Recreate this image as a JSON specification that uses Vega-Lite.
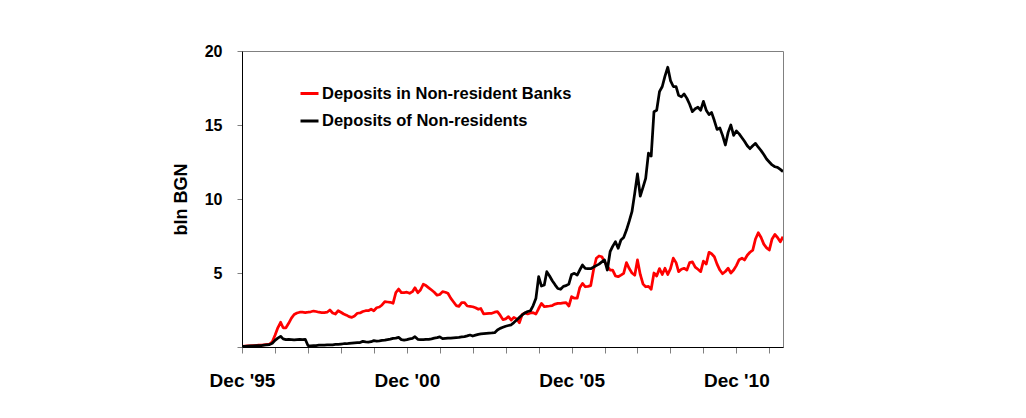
{
  "$schema": "https://vega.github.io/schema/vega-lite/v6.json",
  "width": 541,
  "height": 296,
  "autosize": "none",
  "padding": {"left": 242, "top": 51, "right": 243, "bottom": 71},
  "background": "#ffffff",
  "config": {
    "view": {"stroke": "#808080", "strokeWidth": 1},
    "font": "Liberation Sans",
    "axis": {
      "labelFont": "Liberation Sans",
      "labelFontWeight": "bold",
      "labelColor": "#000000",
      "titleFont": "Liberation Sans",
      "titleFontWeight": "bold",
      "titleColor": "#000000",
      "domainColor": "#000000",
      "domainWidth": 1,
      "tickColor": "#808080",
      "tickSize": 5,
      "grid": false
    }
  },
  "data": {
    "values": [
      {"date": "1995-12-01", "banks": 0.05, "nonres": 0.05},
      {"date": "1996-01-01", "banks": 0.06, "nonres": 0.05},
      {"date": "1996-02-01", "banks": 0.07, "nonres": 0.06},
      {"date": "1996-03-01", "banks": 0.08, "nonres": 0.07},
      {"date": "1996-04-01", "banks": 0.09, "nonres": 0.08},
      {"date": "1996-05-01", "banks": 0.1, "nonres": 0.09},
      {"date": "1996-06-01", "banks": 0.12, "nonres": 0.1},
      {"date": "1996-07-01", "banks": 0.13, "nonres": 0.1},
      {"date": "1996-08-01", "banks": 0.15, "nonres": 0.12},
      {"date": "1996-09-01", "banks": 0.17, "nonres": 0.14},
      {"date": "1996-10-01", "banks": 0.2, "nonres": 0.16},
      {"date": "1996-11-01", "banks": 0.35, "nonres": 0.25},
      {"date": "1996-12-01", "banks": 0.8, "nonres": 0.45},
      {"date": "1997-01-01", "banks": 1.3, "nonres": 0.6},
      {"date": "1997-02-01", "banks": 1.67, "nonres": 0.72},
      {"date": "1997-03-01", "banks": 1.3, "nonres": 0.55},
      {"date": "1997-04-01", "banks": 1.3, "nonres": 0.5},
      {"date": "1997-05-01", "banks": 1.6, "nonres": 0.52},
      {"date": "1997-06-01", "banks": 1.95, "nonres": 0.5},
      {"date": "1997-07-01", "banks": 2.2, "nonres": 0.48},
      {"date": "1997-08-01", "banks": 2.3, "nonres": 0.5},
      {"date": "1997-09-01", "banks": 2.35, "nonres": 0.52},
      {"date": "1997-10-01", "banks": 2.35, "nonres": 0.5},
      {"date": "1997-11-01", "banks": 2.33, "nonres": 0.52},
      {"date": "1997-12-01", "banks": 2.35, "nonres": 0.1},
      {"date": "1998-01-01", "banks": 2.38, "nonres": 0.08},
      {"date": "1998-02-01", "banks": 2.43, "nonres": 0.1},
      {"date": "1998-03-01", "banks": 2.4, "nonres": 0.1},
      {"date": "1998-04-01", "banks": 2.35, "nonres": 0.12},
      {"date": "1998-05-01", "banks": 2.33, "nonres": 0.12},
      {"date": "1998-06-01", "banks": 2.32, "nonres": 0.13},
      {"date": "1998-07-01", "banks": 2.35, "nonres": 0.14},
      {"date": "1998-08-01", "banks": 2.5, "nonres": 0.14},
      {"date": "1998-09-01", "banks": 2.3, "nonres": 0.15},
      {"date": "1998-10-01", "banks": 2.23, "nonres": 0.17},
      {"date": "1998-11-01", "banks": 2.45, "nonres": 0.18},
      {"date": "1998-12-01", "banks": 2.35, "nonres": 0.2},
      {"date": "1999-01-01", "banks": 2.23, "nonres": 0.22},
      {"date": "1999-02-01", "banks": 2.15, "nonres": 0.22},
      {"date": "1999-03-01", "banks": 2.05, "nonres": 0.24},
      {"date": "1999-04-01", "banks": 2.0, "nonres": 0.26},
      {"date": "1999-05-01", "banks": 2.1, "nonres": 0.28},
      {"date": "1999-06-01", "banks": 2.28, "nonres": 0.29},
      {"date": "1999-07-01", "banks": 2.3, "nonres": 0.3},
      {"date": "1999-08-01", "banks": 2.4, "nonres": 0.38},
      {"date": "1999-09-01", "banks": 2.45, "nonres": 0.34},
      {"date": "1999-10-01", "banks": 2.45, "nonres": 0.33},
      {"date": "1999-11-01", "banks": 2.55, "nonres": 0.36},
      {"date": "1999-12-01", "banks": 2.45, "nonres": 0.43},
      {"date": "2000-01-01", "banks": 2.65, "nonres": 0.4},
      {"date": "2000-02-01", "banks": 2.7, "nonres": 0.42},
      {"date": "2000-03-01", "banks": 2.84, "nonres": 0.45},
      {"date": "2000-04-01", "banks": 3.06, "nonres": 0.47},
      {"date": "2000-05-01", "banks": 3.04, "nonres": 0.5},
      {"date": "2000-06-01", "banks": 3.02, "nonres": 0.53},
      {"date": "2000-07-01", "banks": 2.95, "nonres": 0.58},
      {"date": "2000-08-01", "banks": 3.67, "nonres": 0.6},
      {"date": "2000-09-01", "banks": 3.92, "nonres": 0.65},
      {"date": "2000-10-01", "banks": 3.67, "nonres": 0.5},
      {"date": "2000-11-01", "banks": 3.68, "nonres": 0.47},
      {"date": "2000-12-01", "banks": 3.7, "nonres": 0.5},
      {"date": "2001-01-01", "banks": 3.63, "nonres": 0.55},
      {"date": "2001-02-01", "banks": 3.74, "nonres": 0.58},
      {"date": "2001-03-01", "banks": 4.0, "nonres": 0.7},
      {"date": "2001-04-01", "banks": 3.67, "nonres": 0.52},
      {"date": "2001-05-01", "banks": 3.85, "nonres": 0.5},
      {"date": "2001-06-01", "banks": 4.24, "nonres": 0.5},
      {"date": "2001-07-01", "banks": 4.15, "nonres": 0.52},
      {"date": "2001-08-01", "banks": 4.0, "nonres": 0.52},
      {"date": "2001-09-01", "banks": 3.85, "nonres": 0.55},
      {"date": "2001-10-01", "banks": 3.7, "nonres": 0.6},
      {"date": "2001-11-01", "banks": 3.5, "nonres": 0.63},
      {"date": "2001-12-01", "banks": 3.55, "nonres": 0.68},
      {"date": "2002-01-01", "banks": 3.74, "nonres": 0.56},
      {"date": "2002-02-01", "banks": 3.7, "nonres": 0.58},
      {"date": "2002-03-01", "banks": 3.63, "nonres": 0.6},
      {"date": "2002-04-01", "banks": 3.3, "nonres": 0.6},
      {"date": "2002-05-01", "banks": 3.06, "nonres": 0.62},
      {"date": "2002-06-01", "banks": 2.8, "nonres": 0.64},
      {"date": "2002-07-01", "banks": 2.75, "nonres": 0.65},
      {"date": "2002-08-01", "banks": 3.0, "nonres": 0.68},
      {"date": "2002-09-01", "banks": 3.0, "nonres": 0.7},
      {"date": "2002-10-01", "banks": 2.77, "nonres": 0.75},
      {"date": "2002-11-01", "banks": 2.75, "nonres": 0.81},
      {"date": "2002-12-01", "banks": 2.72, "nonres": 0.74},
      {"date": "2003-01-01", "banks": 2.65, "nonres": 0.8},
      {"date": "2003-02-01", "banks": 2.55, "nonres": 0.85},
      {"date": "2003-03-01", "banks": 2.6, "nonres": 0.88},
      {"date": "2003-04-01", "banks": 2.23, "nonres": 0.9},
      {"date": "2003-05-01", "banks": 2.25, "nonres": 0.92},
      {"date": "2003-06-01", "banks": 2.27, "nonres": 0.94},
      {"date": "2003-07-01", "banks": 2.28, "nonres": 0.95},
      {"date": "2003-08-01", "banks": 2.35, "nonres": 0.97},
      {"date": "2003-09-01", "banks": 2.39, "nonres": 1.15},
      {"date": "2003-10-01", "banks": 2.15, "nonres": 1.26},
      {"date": "2003-11-01", "banks": 1.85, "nonres": 1.33},
      {"date": "2003-12-01", "banks": 1.9, "nonres": 1.4},
      {"date": "2004-01-01", "banks": 2.05, "nonres": 1.45},
      {"date": "2004-02-01", "banks": 1.82, "nonres": 1.5},
      {"date": "2004-03-01", "banks": 2.0, "nonres": 1.65},
      {"date": "2004-04-01", "banks": 1.9, "nonres": 1.82},
      {"date": "2004-05-01", "banks": 1.64, "nonres": 2.0},
      {"date": "2004-06-01", "banks": 2.2, "nonres": 2.16},
      {"date": "2004-07-01", "banks": 2.3, "nonres": 2.3},
      {"date": "2004-08-01", "banks": 2.23, "nonres": 2.4},
      {"date": "2004-09-01", "banks": 2.3, "nonres": 2.45},
      {"date": "2004-10-01", "banks": 2.32, "nonres": 2.8},
      {"date": "2004-11-01", "banks": 2.23, "nonres": 3.3},
      {"date": "2004-12-01", "banks": 2.6, "nonres": 4.75},
      {"date": "2005-01-01", "banks": 2.95, "nonres": 4.12},
      {"date": "2005-02-01", "banks": 2.72, "nonres": 4.19},
      {"date": "2005-03-01", "banks": 2.75, "nonres": 5.09},
      {"date": "2005-04-01", "banks": 2.77, "nonres": 4.8},
      {"date": "2005-05-01", "banks": 2.8, "nonres": 4.48},
      {"date": "2005-06-01", "banks": 2.9, "nonres": 4.2},
      {"date": "2005-07-01", "banks": 2.95, "nonres": 3.95},
      {"date": "2005-08-01", "banks": 2.95, "nonres": 3.9},
      {"date": "2005-09-01", "banks": 2.98, "nonres": 4.1},
      {"date": "2005-10-01", "banks": 3.0, "nonres": 4.15},
      {"date": "2005-11-01", "banks": 2.77, "nonres": 4.26},
      {"date": "2005-12-01", "banks": 3.4, "nonres": 4.9},
      {"date": "2006-01-01", "banks": 3.3, "nonres": 4.98},
      {"date": "2006-02-01", "banks": 3.3, "nonres": 4.86},
      {"date": "2006-03-01", "banks": 4.0, "nonres": 5.2},
      {"date": "2006-04-01", "banks": 4.3, "nonres": 5.54},
      {"date": "2006-05-01", "banks": 4.07, "nonres": 5.32},
      {"date": "2006-06-01", "banks": 4.1, "nonres": 5.3},
      {"date": "2006-07-01", "banks": 4.15, "nonres": 5.29},
      {"date": "2006-08-01", "banks": 5.2, "nonres": 5.4},
      {"date": "2006-09-01", "banks": 6.0, "nonres": 5.5},
      {"date": "2006-10-01", "banks": 6.15, "nonres": 5.6},
      {"date": "2006-11-01", "banks": 6.1, "nonres": 5.75},
      {"date": "2006-12-01", "banks": 5.77, "nonres": 5.88},
      {"date": "2007-01-01", "banks": 5.45, "nonres": 5.2},
      {"date": "2007-02-01", "banks": 5.2, "nonres": 6.44},
      {"date": "2007-03-01", "banks": 5.2, "nonres": 6.8},
      {"date": "2007-04-01", "banks": 4.8, "nonres": 7.11},
      {"date": "2007-05-01", "banks": 4.75, "nonres": 6.67},
      {"date": "2007-06-01", "banks": 4.86, "nonres": 7.23},
      {"date": "2007-07-01", "banks": 4.98, "nonres": 7.4},
      {"date": "2007-08-01", "banks": 5.7, "nonres": 7.9},
      {"date": "2007-09-01", "banks": 5.3, "nonres": 8.5},
      {"date": "2007-10-01", "banks": 5.0, "nonres": 9.14},
      {"date": "2007-11-01", "banks": 4.85, "nonres": 10.4},
      {"date": "2007-12-01", "banks": 5.88, "nonres": 11.7},
      {"date": "2008-01-01", "banks": 4.9, "nonres": 10.2},
      {"date": "2008-02-01", "banks": 4.25, "nonres": 10.8},
      {"date": "2008-03-01", "banks": 4.07, "nonres": 11.4},
      {"date": "2008-04-01", "banks": 4.1, "nonres": 13.1},
      {"date": "2008-05-01", "banks": 3.9, "nonres": 12.9},
      {"date": "2008-06-01", "banks": 5.0, "nonres": 15.9},
      {"date": "2008-07-01", "banks": 4.8, "nonres": 16.0},
      {"date": "2008-08-01", "banks": 5.3, "nonres": 17.25},
      {"date": "2008-09-01", "banks": 4.9, "nonres": 17.6},
      {"date": "2008-10-01", "banks": 5.32, "nonres": 18.3},
      {"date": "2008-11-01", "banks": 4.9, "nonres": 18.9},
      {"date": "2008-12-01", "banks": 5.3, "nonres": 18.0},
      {"date": "2009-01-01", "banks": 6.0, "nonres": 17.6},
      {"date": "2009-02-01", "banks": 5.7, "nonres": 17.6},
      {"date": "2009-03-01", "banks": 5.09, "nonres": 17.0},
      {"date": "2009-04-01", "banks": 5.25, "nonres": 16.9},
      {"date": "2009-05-01", "banks": 5.32, "nonres": 17.1},
      {"date": "2009-06-01", "banks": 5.2, "nonres": 16.8},
      {"date": "2009-07-01", "banks": 5.7, "nonres": 16.4},
      {"date": "2009-08-01", "banks": 5.75, "nonres": 15.9},
      {"date": "2009-09-01", "banks": 5.4, "nonres": 16.1},
      {"date": "2009-10-01", "banks": 5.25, "nonres": 16.2},
      {"date": "2009-11-01", "banks": 5.09, "nonres": 16.0},
      {"date": "2009-12-01", "banks": 5.8, "nonres": 16.6},
      {"date": "2010-01-01", "banks": 5.6, "nonres": 16.0},
      {"date": "2010-02-01", "banks": 6.4, "nonres": 15.7},
      {"date": "2010-03-01", "banks": 6.3, "nonres": 15.85},
      {"date": "2010-04-01", "banks": 6.1, "nonres": 15.3},
      {"date": "2010-05-01", "banks": 5.6, "nonres": 14.7},
      {"date": "2010-06-01", "banks": 5.2, "nonres": 14.8},
      {"date": "2010-07-01", "banks": 4.95, "nonres": 14.3},
      {"date": "2010-08-01", "banks": 5.1, "nonres": 13.65},
      {"date": "2010-09-01", "banks": 5.32, "nonres": 14.5},
      {"date": "2010-10-01", "banks": 5.0, "nonres": 15.0},
      {"date": "2010-11-01", "banks": 5.2, "nonres": 14.3},
      {"date": "2010-12-01", "banks": 5.5, "nonres": 14.6},
      {"date": "2011-01-01", "banks": 5.9, "nonres": 14.4},
      {"date": "2011-02-01", "banks": 6.0, "nonres": 14.14},
      {"date": "2011-03-01", "banks": 5.88, "nonres": 13.9},
      {"date": "2011-04-01", "banks": 6.2, "nonres": 13.6},
      {"date": "2011-05-01", "banks": 6.4, "nonres": 13.4},
      {"date": "2011-06-01", "banks": 6.55, "nonres": 13.6},
      {"date": "2011-07-01", "banks": 7.3, "nonres": 13.76},
      {"date": "2011-08-01", "banks": 7.72, "nonres": 13.5},
      {"date": "2011-09-01", "banks": 7.4, "nonres": 13.27},
      {"date": "2011-10-01", "banks": 6.95, "nonres": 13.0},
      {"date": "2011-11-01", "banks": 6.7, "nonres": 12.7},
      {"date": "2011-12-01", "banks": 6.55, "nonres": 12.5},
      {"date": "2012-01-01", "banks": 7.3, "nonres": 12.3},
      {"date": "2012-02-01", "banks": 7.6, "nonres": 12.18},
      {"date": "2012-03-01", "banks": 7.4, "nonres": 12.14},
      {"date": "2012-04-01", "banks": 7.11, "nonres": 12.0},
      {"date": "2012-05-01", "banks": 7.45, "nonres": 11.85}
    ]
  },
  "transform": [
    {"fold": ["banks", "nonres"], "as": ["series", "value"]}
  ],
  "mark": {"type": "line", "strokeWidth": 2.75, "strokeJoin": "round", "clip": true},
  "encoding": {
    "x": {
      "field": "date",
      "type": "temporal",
      "scale": {
        "type": "utc",
        "domain": [
          {"year": 1995, "month": 12, "date": 1, "utc": true},
          {"year": 2012, "month": 5, "date": 1, "utc": true}
        ],
        "nice": false
      },
      "axis": {
        "title": null,
        "values": [
          {"year": 1995, "month": 12, "date": 1, "utc": true},
          {"year": 1996, "month": 12, "date": 1, "utc": true},
          {"year": 1997, "month": 12, "date": 1, "utc": true},
          {"year": 1998, "month": 12, "date": 1, "utc": true},
          {"year": 1999, "month": 12, "date": 1, "utc": true},
          {"year": 2000, "month": 12, "date": 1, "utc": true},
          {"year": 2001, "month": 12, "date": 1, "utc": true},
          {"year": 2002, "month": 12, "date": 1, "utc": true},
          {"year": 2003, "month": 12, "date": 1, "utc": true},
          {"year": 2004, "month": 12, "date": 1, "utc": true},
          {"year": 2005, "month": 12, "date": 1, "utc": true},
          {"year": 2006, "month": 12, "date": 1, "utc": true},
          {"year": 2007, "month": 12, "date": 1, "utc": true},
          {"year": 2008, "month": 12, "date": 1, "utc": true},
          {"year": 2009, "month": 12, "date": 1, "utc": true},
          {"year": 2010, "month": 12, "date": 1, "utc": true},
          {"year": 2011, "month": 12, "date": 1, "utc": true}
        ],
        "labelExpr": "utcyear(datum.value) % 5 == 0 ? \"Dec '\" + slice(toString(utcyear(datum.value)), 2) : ''",
        "labelFlush": false,
        "labelOverlap": false,
        "labelFontSize": 19,
        "labelPadding": 18,
        "tickSize": 6
      }
    },
    "y": {
      "field": "value",
      "type": "quantitative",
      "scale": {"domain": [0, 20], "nice": false},
      "axis": {
        "title": "bln BGN",
        "titleFontSize": 18,
        "values": [0, 5, 10, 15, 20],
        "labelExpr": "datum.value == 0 ? '' : datum.label",
        "labelFontSize": 16,
        "labelPadding": 15,
        "titlePadding": 14
      }
    },
    "color": {
      "field": "series",
      "type": "nominal",
      "scale": {"domain": ["banks", "nonres"], "range": ["#ff0000", "#000000"]},
      "legend": {
        "title": null,
        "orient": "none",
        "legendX": 57,
        "legendY": 32,
        "padding": 0,
        "symbolType": "stroke",
        "symbolSize": 324,
        "symbolStrokeWidth": 3,
        "labelOffset": 2,
        "rowPadding": 8.5,
        "labelFont": "Liberation Sans",
        "labelFontWeight": "bold",
        "labelFontSize": 16.5,
        "labelColor": "#000000",
        "labelLimit": 0,
        "labelExpr": "datum.label == 'banks' ? 'Deposits in Non-resident Banks' : 'Deposits of Non-residents'"
      }
    }
  }
}
